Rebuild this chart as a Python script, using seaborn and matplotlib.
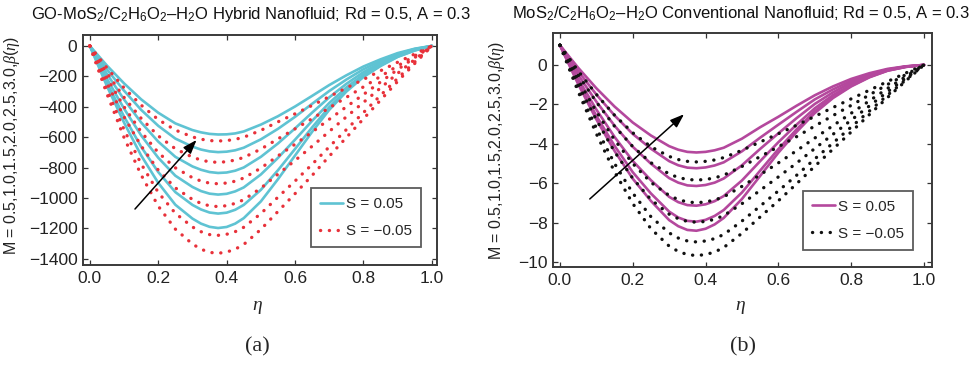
import matplotlib
matplotlib.use("Agg")
import matplotlib.pyplot as plt
from matplotlib.lines import Line2D
import numpy as np
import pandas as pd
import seaborn as sns

# ---------------- data ----------------
eta = [0.0, 0.05, 0.10, 0.15, 0.20, 0.25, 0.30, 0.325, 0.35, 0.375, 0.40, 0.425,
       0.45, 0.50, 0.55, 0.60, 0.65, 0.70, 0.75, 0.80, 0.85, 0.90, 0.95, 1.0]
M_values = ["0.5", "1.0", "1.5", "2.0", "2.5", "3.0"]

# Panel (a): GO-MoS2 hybrid nanofluid, S = 0.05 (solid) and S = -0.05 (dotted)
a_s1 = [0, -129, -246, -351, -439, -509, -553, -568, -578, -582, -581, -575, -562, -517, -462, -398, -328, -257, -193, -135, -88, -47, -18, 0]
a_s2 = [0, -154, -294, -420, -525, -609, -662, -681, -693, -698, -695, -686, -669, -614, -545, -466, -380, -296, -221, -153, -100, -53, -20, 0]
a_s3 = [0, -184, -352, -503, -629, -729, -792, -814, -829, -835, -832, -820, -799, -729, -641, -542, -438, -338, -249, -172, -112, -60, -23, 0]
a_s4 = [0, -216, -412, -588, -735, -853, -927, -954, -971, -977, -972, -956, -930, -845, -736, -616, -492, -375, -273, -188, -122, -66, -26, 0]
a_s5 = [0, -243, -464, -663, -829, -961, -1045, -1075, -1095, -1102, -1096, -1077, -1045, -946, -817, -677, -535, -402, -290, -198, -128, -70, -29, 0]
a_s6 = [0, -264, -504, -720, -900, -1044, -1135, -1168, -1189, -1197, -1190, -1168, -1132, -1022, -876, -720, -564, -420, -300, -204, -132, -72, -30, 0]

a_d1 = [0, -144, -276, -389, -484, -553, -598, -613, -622, -625, -622, -614, -600, -555, -499, -446, -391, -333, -276, -220, -163, -107, -53, 0]
a_d2 = [0, -177, -338, -476, -591, -676, -731, -750, -762, -765, -761, -750, -733, -678, -611, -545, -478, -407, -338, -269, -200, -131, -65, 0]
a_d3 = [0, -209, -400, -564, -701, -801, -866, -888, -902, -906, -901, -889, -868, -803, -723, -646, -566, -482, -400, -319, -237, -155, -76, 0]
a_d4 = [0, -244, -466, -657, -816, -933, -1009, -1035, -1051, -1056, -1050, -1035, -1011, -935, -843, -753, -659, -562, -466, -371, -276, -180, -89, 0]
a_d5 = [0, -288, -550, -775, -963, -1100, -1190, -1221, -1240, -1245, -1238, -1221, -1192, -1102, -994, -888, -778, -663, -550, -438, -325, -213, -105, 0]
a_d6 = [0, -315, -602, -848, -1053, -1204, -1302, -1336, -1357, -1363, -1355, -1336, -1305, -1206, -1088, -971, -851, -725, -602, -479, -356, -233, -115, 0]

# Panel (b): MoS2 conventional nanofluid
b_s1 = [1.0, -0.14, -1.18, -2.11, -2.92, -3.58, -4.12, -4.30, -4.41, -4.44, -4.41, -4.33, -4.20, -3.74, -3.16, -2.63, -2.07, -1.54, -1.09, -0.71, -0.42, -0.20, -0.07, 0]
b_s2 = [1.0, -0.31, -1.50, -2.56, -3.50, -4.25, -4.88, -5.09, -5.21, -5.24, -5.20, -5.10, -4.94, -4.38, -3.69, -3.03, -2.38, -1.75, -1.24, -0.81, -0.48, -0.23, -0.08, 0]
b_s3 = [1.0, -0.50, -1.86, -3.08, -4.15, -5.01, -5.74, -5.97, -6.11, -6.14, -6.09, -5.97, -5.76, -5.09, -4.26, -3.47, -2.70, -1.98, -1.39, -0.90, -0.53, -0.25, -0.08, 0]
b_s4 = [1.0, -0.71, -2.26, -3.65, -4.87, -5.85, -6.69, -6.96, -7.11, -7.14, -7.07, -6.91, -6.65, -5.86, -4.88, -3.92, -3.03, -2.20, -1.53, -1.00, -0.58, -0.27, -0.09, 0]
b_s5 = [1.0, -0.88, -2.58, -4.10, -5.44, -6.52, -7.44, -7.74, -7.91, -7.95, -7.86, -7.66, -7.36, -6.47, -5.36, -4.27, -3.27, -2.35, -1.63, -1.06, -0.61, -0.29, -0.10, 0]
b_s6 = [1.0, -0.97, -2.76, -4.36, -5.77, -6.90, -7.87, -8.18, -8.37, -8.41, -8.31, -8.09, -7.76, -6.80, -5.63, -4.45, -3.40, -2.44, -1.68, -1.09, -0.63, -0.29, -0.10, 0]

b_d1 = [1.0, -0.30, -1.49, -2.55, -3.44, -4.15, -4.64, -4.80, -4.89, -4.92, -4.89, -4.82, -4.70, -4.33, -3.91, -3.49, -3.06, -2.61, -2.16, -1.72, -1.28, -0.84, -0.41, 0]
b_d2 = [1.0, -0.51, -1.88, -3.11, -4.14, -4.96, -5.53, -5.71, -5.81, -5.84, -5.81, -5.73, -5.59, -5.15, -4.65, -4.15, -3.64, -3.10, -2.57, -2.05, -1.52, -0.99, -0.49, 0]
b_d3 = [1.0, -0.76, -2.36, -3.80, -5.00, -5.96, -6.62, -6.83, -6.95, -6.99, -6.95, -6.85, -6.69, -6.16, -5.57, -4.97, -4.35, -3.71, -3.08, -2.45, -1.82, -1.19, -0.59, 0]
b_d4 = [1.0, -0.98, -2.78, -4.40, -5.75, -6.83, -7.57, -7.80, -7.94, -7.98, -7.94, -7.83, -7.64, -7.04, -6.36, -5.68, -4.98, -4.24, -3.52, -2.80, -2.08, -1.36, -0.67, 0]
b_d5 = [1.0, -1.20, -3.20, -5.00, -6.50, -7.70, -8.52, -8.78, -8.93, -8.98, -8.93, -8.81, -8.60, -7.92, -7.16, -6.39, -5.60, -4.77, -3.96, -3.15, -2.34, -1.53, -0.76, 0]
b_d6 = [1.0, -1.35, -3.49, -5.42, -7.03, -8.31, -9.19, -9.46, -9.62, -9.67, -9.62, -9.49, -9.26, -8.54, -7.71, -6.89, -6.03, -5.14, -4.27, -3.40, -2.52, -1.65, -0.81, 0]

x_ticks = [0.0, 0.2, 0.4, 0.6, 0.8, 1.0]
a_yticks = [0, -200, -400, -600, -800, -1000, -1200, -1400]
b_yticks = [0, -2, -4, -6, -8, -10]

# arrow annotations (tail -> head, data units)
a_arrow_tail, a_arrow_head = (0.132, -1072), (0.312, -618)
b_arrow_tail, b_arrow_head = (0.082, -6.80), (0.341, -2.50)

# ---------------- style ----------------
sns.set_theme(style="ticks")
plt.rcParams["font.family"] = ["Liberation Sans", "DejaVu Sans"]
plt.rcParams["mathtext.fontset"] = "custom"
plt.rcParams["mathtext.rm"] = "Liberation Sans"
plt.rcParams["mathtext.it"] = "Liberation Serif:italic"

CYAN = "#5fc3d3"
RED = "#e8313a"
MAGENTA = "#b4489d"
BLACK = "#111111"
DOTS = (0, (0.05, 2.6))


def long_frame(curves, label):
    rows = []
    for m, vals in zip(M_values, curves):
        for e, v in zip(eta, vals):
            rows.append({"eta": e, "beta": v, "M": m, "S": label})
    return pd.DataFrame(rows)


fig = plt.figure(figsize=(9.72, 3.66), dpi=100)
ax_a = fig.add_axes([83 / 972, 1 - 265 / 366, 354 / 972, 230 / 366])
ax_b = fig.add_axes([553 / 972, 1 - 267 / 366, 379 / 972, 234 / 366])

panels = [
    (ax_a, [a_s1, a_s2, a_s3, a_s4, a_s5, a_s6], [a_d1, a_d2, a_d3, a_d4, a_d5, a_d6],
     CYAN, RED, a_yticks, (-1440, 72), (-0.02, 1.015), a_arrow_tail, a_arrow_head,
     "GO-MoS$_2$/C$_2$H$_6$O$_2$–H$_2$O Hybrid Nanofluid; Rd = 0.5, A = 0.3",
     -0.172, 0.52, (0.955, 0.078), 251),
    (ax_b, [b_s1, b_s2, b_s3, b_s4, b_s5, b_s6], [b_d1, b_d2, b_d3, b_d4, b_d5, b_d6],
     MAGENTA, BLACK, b_yticks, (-10.25, 1.62), (-0.019, 1.022), b_arrow_tail, b_arrow_head,
     "MoS$_2$/C$_2$H$_6$O$_2$–H$_2$O Conventional Nanofluid; Rd = 0.5, A = 0.3",
     -0.121, 0.50, (0.95, 0.073), 741),
]

for (ax, solid, dotted, c_sol, c_dot, yt, ylim, xlim, tail, head, title,
     ylx, yly, leg_anchor, title_x) in panels:
    df_s = long_frame(solid, "0.05")
    df_d = long_frame(dotted, "-0.05")
    sns.lineplot(data=df_s, x="eta", y="beta", units="M", estimator=None,
                 color=c_sol, lw=1.9, ax=ax, legend=False, sort=False)
    sns.lineplot(data=df_d, x="eta", y="beta", units="M", estimator=None,
                 color=c_dot, lw=2.4, ax=ax, legend=False, sort=False)
    for ln in ax.lines[:len(solid)]:
        ln.set_solid_joinstyle("round")
    for ln in ax.lines[len(solid):]:
        ln.set_linestyle(DOTS)
        ln.set_dash_capstyle("round")
    ax.annotate("", xy=head, xytext=tail,
                arrowprops=dict(arrowstyle="-|>,head_length=0.7,head_width=0.25",
                                color="black", lw=1.1, shrinkA=0, shrinkB=0))
    ax.set_xlim(*xlim)
    ax.set_ylim(*ylim)
    ax.set_xticks(x_ticks)
    ax.set_xticklabels([f"{t:.1f}" for t in x_ticks])
    ax.set_yticks(yt)
    ax.set_yticklabels([("−" if t < 0 else "") + f"{abs(t)}" for t in yt])
    ax.tick_params(direction="in", length=3.5, width=0.9, labelsize=12.5,
                   top=True, right=True, pad=4, colors="#333333",
                   labelcolor="#222222")
    for sp in ax.spines.values():
        sp.set_color("#3a3a3a")
        sp.set_linewidth(1.4)
    ax.set_xlabel("")
    ax.set_ylabel("M = 0.5,1.0,1.5,2.0,2.5,3.0,$\\beta(\\eta)$", fontsize=11.5,
                  color="#222222")
    ax.yaxis.set_label_coords(ylx, yly)
    fig.text(title_x / 972, 1 - 14 / 366, title, ha="center", va="center",
             fontsize=12, color="#111111")
    handles = [Line2D([], [], color=c_sol, lw=1.9),
               Line2D([], [], color=c_dot, lw=2.4, linestyle=DOTS,
                      dash_capstyle="round")]
    leg = ax.legend(handles, ["S = 0.05", "S = −0.05"], loc="lower right",
                    bbox_to_anchor=leg_anchor, borderaxespad=0, fontsize=11,
                    frameon=True, fancybox=False, edgecolor="#333333",
                    handlelength=1.5, handletextpad=0.2, labelspacing=0.85,
                    borderpad=0.6)
    leg.get_frame().set_linewidth(1.3)

fig.text(257 / 972, 1 - 307 / 366, "$\\eta$", ha="center", va="center", fontsize=14)
fig.text(740 / 972, 1 - 307 / 366, "$\\eta$", ha="center", va="center", fontsize=14)
fig.text(257 / 972, 1 - 347 / 366, "(a)", ha="center", va="center", fontsize=16,
         family="Liberation Serif")
fig.text(743 / 972, 1 - 347 / 366, "(b)", ha="center", va="center", fontsize=16,
         family="Liberation Serif")

fig.savefig("out.png", dpi=100, facecolor="white")
